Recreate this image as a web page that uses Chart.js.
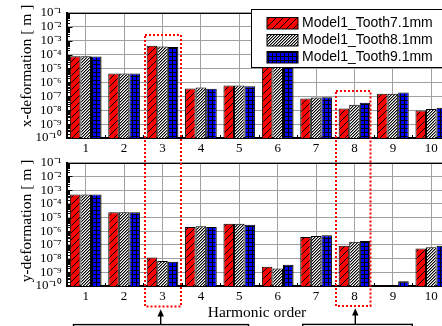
<!DOCTYPE html>
<html><head><meta charset="utf-8">
<script src="https://cdn.jsdelivr.net/npm/chart.js@4.4.1/dist/chart.umd.min.js"></script>
<style>
html,body{margin:0;padding:0;width:442px;height:326px;overflow:hidden;background:#fff;}
#wrap{position:relative;width:442px;height:326px;overflow:hidden;}
.cv{position:absolute;left:0;}
.t{position:absolute;font-family:"Liberation Serif","Times New Roman",serif;font-size:15.5px;color:#000;white-space:nowrap;line-height:1;}
.rot{transform:translate(-50%,-50%) rotate(-90deg);}
.hor{transform:translate(-50%,-50%);}
svg{position:absolute;left:0;top:0;}
</style></head>
<body><div id="wrap">
<div class="cv" style="top:0"><canvas id="c1" width="452" height="160"></canvas></div>
<div class="cv" style="top:150px"><canvas id="c2" width="452" height="176"></canvas></div>
<div class="t rot" style="left:26px;top:66px">x-deformation [ m ]</div>
<div class="t rot" style="left:26px;top:221px">y-deformation [ m ]</div>
<div class="t hor" style="left:257px;top:312px">Harmonic order</div>
<svg width="442" height="326">
<rect x="145" y="35" width="36" height="271.5" fill="none" stroke="#ff0000" stroke-width="2" stroke-dasharray="2 2"/>
<rect x="336" y="91" width="34.5" height="215" fill="none" stroke="#ff0000" stroke-width="2" stroke-dasharray="2 2"/>
<line x1="160.7" y1="315" x2="160.7" y2="325" stroke="#000" stroke-width="1.4"/>
<polygon points="160.7,309.3 157.5,316.5 163.9,316.5" fill="#000"/>
<line x1="355.3" y1="314" x2="355.3" y2="325" stroke="#000" stroke-width="1.4"/>
<polygon points="355.3,308.3 352.1,315.5 358.5,315.5" fill="#000"/>
<rect x="73.5" y="324.6" width="175" height="12" fill="none" stroke="#000" stroke-width="1.4"/>
<rect x="302.7" y="324.4" width="109.6" height="12" fill="none" stroke="#000" stroke-width="1.4"/>
</svg>
</div>
<script>
const categories = ['1','2','3','4','5','6','7','8','9','10'];
const seriesNames = ['Model1_Tooth7.1mm','Model1_Tooth8.1mm','Model1_Tooth9.1mm'];
const yTickExponents = [-10,-9,-8,-7,-6,-5,-4,-3,-2,-1];
const yTickLabels = ['10⁻¹⁰','10⁻⁹','10⁻⁸','10⁻⁷','10⁻⁶','10⁻⁵','10⁻⁴','10⁻³','10⁻²','10⁻¹'];

// x-deformation [m]
const xDefTooth71 = [7.6e-5, 4.4e-6, 4.2e-4, 3.6e-7, 5.9e-7, 3.0e-5, 6.9e-8, 1.3e-8, 1.5e-7, 9.3e-9];
const xDefTooth81 = [7.6e-5, 4.4e-6, 3.8e-4, 4.3e-7, 5.9e-7, 2.8e-5, 8.1e-8, 2.5e-8, 1.5e-7, 1.2e-8];
const xDefTooth91 = [7.2e-5, 4.3e-6, 3.5e-4, 3.4e-7, 5.2e-7, 2.6e-5, 8.5e-8, 3.4e-8, 1.9e-7, 1.5e-8];
// y-deformation [m]
const yDefTooth71 = [4.8e-4, 2.4e-5, 1.2e-8, 2.0e-6, 3.5e-6, 2.6e-9, 3.8e-7, 8.7e-8, 1.1e-10, 5.5e-8];
const yDefTooth81 = [4.8e-4, 2.4e-5, 6.8e-9, 2.3e-6, 3.5e-6, 1.9e-9, 4.5e-7, 1.7e-7, null, 6.8e-8];
const yDefTooth91 = [4.8e-4, 2.4e-5, 6.0e-9, 2.0e-6, 3.0e-6, 3.5e-9, 5.0e-7, 1.9e-7, 2.2e-10, 8.7e-8];

function tile(w, h, fn){
  const c = document.createElement('canvas'); c.width = w; c.height = h;
  const g = c.getContext('2d'); fn(g);
  return document.createElement('canvas').getContext('2d').createPattern(c, 'repeat');
}
const redPat = tile(7,7,g=>{
  g.fillStyle='#ff0000'; g.fillRect(0,0,7,7);
  g.strokeStyle='#000'; g.lineWidth=1;
  g.beginPath(); g.moveTo(-1,8); g.lineTo(8,-1); g.moveTo(-1,1); g.lineTo(1,-1); g.moveTo(6,8); g.lineTo(8,6); g.stroke();
});
const grayPat = tile(3,3,g=>{
  g.fillStyle='#ffffff'; g.fillRect(0,0,3,3);
  g.fillStyle='#000000'; g.fillRect(2,0,1,1); g.fillRect(1,1,1,1); g.fillRect(0,2,1,1);
  g.fillStyle='#8a8a8a'; g.fillRect(0,0,1,1); g.fillRect(2,1,1,1); g.fillRect(1,2,1,1);
});
const bluePat = tile(4,4,g=>{
  g.fillStyle='#0000ff'; g.fillRect(0,0,4,4);
  g.fillStyle='#000'; g.fillRect(0,0,4,1); g.fillRect(0,0,1,4);
});
const patterns = [redPat, grayPat, bluePat];

function line(ctx,x1,y1,x2,y2){ ctx.beginPath(); ctx.moveTo(x1,y1); ctx.lineTo(x2,y2); ctx.stroke(); }

const decor = {
  id:'decor',
  beforeDatasetsDraw(chart){
    const {ctx, chartArea:a, scales:{x, y}} = chart;
    ctx.save();
    ctx.strokeStyle='#000'; ctx.lineWidth=1;
    for (let e=-10; e<-1; e++){
      for (let m=2; m<=9; m++){
        const py = Math.round(y.getPixelForValue(m*Math.pow(10,e)))+0.5;
        line(ctx, a.left, py, a.left+3.5, py);
      }
    }
    yTickExponents.forEach(e=>{
      const py = Math.round(y.getPixelForValue(Math.pow(10,e)))+0.5;
      line(ctx, a.left, py, a.left+6, py);
    });
    for (let i=0;i<categories.length-1;i++){
      const px = Math.round((x.getPixelForValue(i)+x.getPixelForValue(i+1))/2)+0.5;
      line(ctx, px, a.bottom, px, a.bottom-3);
    }
    line(ctx, a.left, Math.round(a.top)+0.5, a.right, Math.round(a.top)+0.5);
    line(ctx, a.left, Math.round(a.bottom)-0.5, a.right, Math.round(a.bottom)-0.5);
    ctx.restore();
  }
};

const legendBox = {
  id:'legendBox',
  afterDraw(chart){
    const ctx = chart.ctx;
    ctx.save();
    ctx.fillStyle='#fff'; ctx.strokeStyle='#000'; ctx.lineWidth=1;
    ctx.fillRect(251.5, 9.5, 205, 58); ctx.strokeRect(251.5, 9.5, 205, 58);
    const ys = [17.5, 34.5, 51.5];
    ctx.font = '14px "Liberation Sans", Arial, sans-serif';
    ctx.textBaseline = 'middle'; ctx.textAlign = 'left';
    seriesNames.forEach((n,i)=>{
      ctx.fillStyle = patterns[i];
      ctx.fillRect(267, ys[i], 31, 11.5);
      ctx.strokeRect(267, ys[i], 31, 11.5);
      ctx.fillStyle = '#000';
      ctx.fillText(n, 302, ys[i]+6);
    });
    ctx.restore();
  }
};

function makeChart(id, series, padTop, xh, extra){
  return new Chart(document.getElementById(id), {
    type:'bar',
    data:{
      labels: categories,
      datasets: series.map((d,i)=>({
        label: seriesNames[i], data: d, backgroundColor: patterns[i],
        borderColor:'#000', borderWidth:1, categoryPercentage:0.825, barPercentage:1
      }))
    },
    options:{
      responsive:false, animation:false, devicePixelRatio:1,
      layout:{padding:{left:0, right:1.5, top:padTop, bottom:0}},
      plugins:{legend:{display:false}, tooltip:{enabled:false}},
      scales:{
        x:{
          offset:true,
          grid:{offset:false, color:'#a0a0a0', lineWidth:1, drawTicks:false},
          border:{color:'#000', width:1},
          ticks:{color:'#000', font:{family:'"Liberation Serif", "Times New Roman", serif', size:13}, padding:3, maxRotation:0, autoSkip:false},
          afterFit(s){ s.height = xh; }
        },
        y:{
          type:'logarithmic', min:1e-10, max:1e-1,
          grid:{color:'#a0a0a0', lineWidth:1, drawTicks:false},
          border:{color:'#000', width:2},
          ticks:{
            color:'#000', padding:5, autoSkip:false,
            font:{family:'"Liberation Serif", "Times New Roman", serif', size:13},
            callback:(v)=>{ const e = Math.round(Math.log10(v)); const k = yTickExponents.indexOf(e); return k>=0 ? yTickLabels[k] : ''; }
          },
          afterBuildTicks(s){ s.ticks = yTickExponents.map(e=>({value:Math.pow(10,e)})); },
          afterFit(s){ s.width = 66.5; }
        }
      }
    },
    plugins: extra ? [decor, extra] : [decor]
  });
}

makeChart('c1', [xDefTooth71, xDefTooth81, xDefTooth91], 12.7, 22, legendBox);
makeChart('c2', [yDefTooth71, yDefTooth81, yDefTooth91], 11, 40, null);
</script>
</body></html>
